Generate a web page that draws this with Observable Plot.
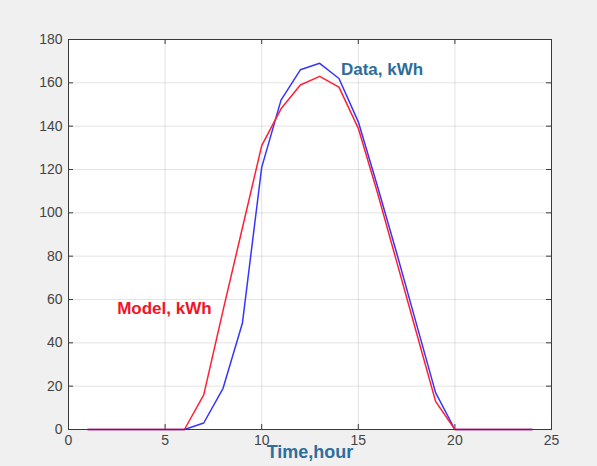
<!DOCTYPE html>
<html><head><meta charset="utf-8">
<script src="https://cdn.jsdelivr.net/npm/d3@7"></script>
<script src="https://cdn.jsdelivr.net/npm/@observablehq/plot@0.6"></script>
<style>
html,body{margin:0;padding:0;background:#f0f0f0;}
</style></head><body><div id="chart"></div>
<script>
const hours = [1,2,3,4,5,6,7,8,9,10,11,12,13,14,15,16,17,18,19,20,21,22,23,24];
const dataKWh = [0,0,0,0,0,0,3,19,49,121,152,166,169,162,142,112,81,49,17,0,0,0,0,0];
const modelKWh = [0,0,0,0,0,0,16,55,93,131,148,159,163,158,139,109,77,45,13,0,0,0,0,0];
const xTicks = [0,5,10,15,20,25];
const yTicks = [0,20,40,60,80,100,120,140,160,180];
const dataLabel = "Data, kWh";
const modelLabel = "Model, kWh";
const xLabel = "Time,hour";

const W = 597, H = 466;
const mL = 68, mR = 46, mT = 39, mB = 37;
const innerW = W - mL - mR, innerH = H - mT - mB;
const axisColor = "#3a3a3a";

const dataRows = hours.map((h, i) => ({h, v: dataKWh[i]}));
const modelRows = hours.map((h, i) => ({h, v: modelKWh[i]}));

const chart = Plot.plot({
  width: W, height: H,
  marginLeft: mL, marginRight: mR, marginTop: mT, marginBottom: mB,
  style: {background: "#f0f0f0", fontFamily: "'Liberation Sans', Arial, sans-serif", fontSize: "14px", color: "#444"},
  x: {domain: [0, 25]},
  y: {domain: [0, 180]},
  marks: [
    Plot.frame({fill: "white", stroke: null}),
    Plot.gridX(xTicks.slice(1, -1), {stroke: "#262626", strokeOpacity: 0.13}),
    Plot.gridY(yTicks.slice(1, -1), {stroke: "#262626", strokeOpacity: 0.13}),
    Plot.tickX(xTicks, {x: d => d, insetTop: innerH - 5, stroke: axisColor}),
    Plot.tickX(xTicks, {x: d => d, insetBottom: innerH - 5, stroke: axisColor}),
    Plot.tickY(yTicks, {y: d => d, insetRight: innerW - 5, stroke: axisColor}),
    Plot.tickY(yTicks, {y: d => d, insetLeft: innerW - 5, stroke: axisColor}),
    Plot.line(dataRows, {x: "h", y: "v", stroke: "#3535ff", strokeWidth: 1.5}),
    Plot.line(modelRows, {x: "h", y: "v", stroke: "#ff1f35", strokeWidth: 1.5}),
    Plot.text([dataLabel], {x: 14.1, y: 166, text: d => d, textAnchor: "start", fill: "#2f6c98", fontWeight: "bold", fontSize: 17}),
    Plot.text([modelLabel], {x: 2.52, y: 56, text: d => d, textAnchor: "start", fill: "#f01428", fontWeight: "bold", fontSize: 17}),
    Plot.frame({stroke: axisColor, strokeWidth: 1}),
    Plot.axisX({ticks: xTicks, tickSize: 0, tickPadding: 6, label: null, fill: "#444"}),
    Plot.axisY({ticks: yTicks, tickSize: 0, tickPadding: 6, label: null, fill: "#444"}),
    Plot.text([xLabel], {frameAnchor: "bottom", dy: 28, text: d => d, fill: "#2e6e9c", fontWeight: "bold", fontSize: 18})
  ]
});
document.getElementById("chart").appendChild(chart);
</script></body></html>
